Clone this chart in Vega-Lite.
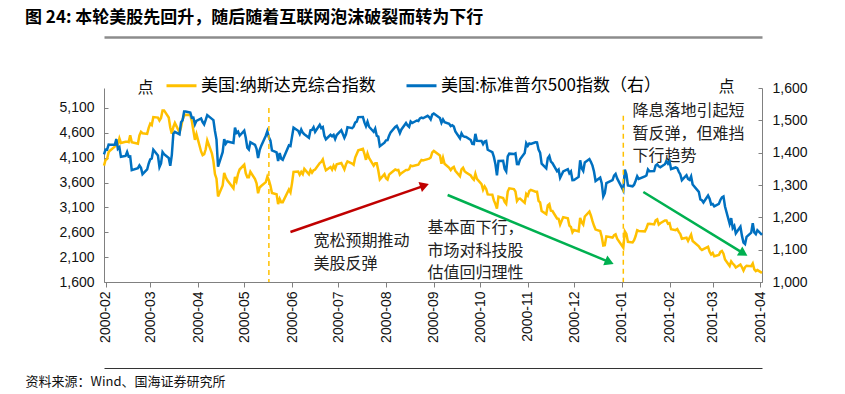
{
  "$schema": "https://vega.github.io/schema/vega-lite/v6.json",
  "width": 658,
  "height": 194,
  "autosize": {"type": "none"},
  "padding": {"left": 104, "top": 88, "right": 83, "bottom": 112},
  "background": "#ffffff",
  "config": {
    "view": {"stroke": null},
    "axis": {"grid": false, "labelOverlap": false, "domainColor": "#808080", "tickColor": "#808080", "labelColor": "#111111", "labelFont": "Liberation Sans", "labelFontSize": 14, "titleFontWeight": "normal", "titleColor": "#111111"}
  },
  "title": {
    "text": "图 24:  本轮美股先回升，随后随着互联网泡沫破裂而转为下行",
    "anchor": "start",
    "frame": "group",
    "font": "Noto Sans CJK SC",
    "fontSize": 17,
    "fontWeight": "bold",
    "color": "#000000",
    "dx": -79,
    "dy": -6
  },
  "datasets": {
    "idx": [
      {"d":"2000-01-31","n":3940,"s":1394.5},
      {"d":"2000-02-01","n":4052,"s":1409.3},
      {"d":"2000-02-02","n":4074,"s":1409.1},
      {"d":"2000-02-03","n":4211,"s":1425.0},
      {"d":"2000-02-04","n":4244,"s":1424.4},
      {"d":"2000-02-07","n":4322,"s":1424.2},
      {"d":"2000-02-08","n":4428,"s":1441.7},
      {"d":"2000-02-09","n":4363,"s":1411.7},
      {"d":"2000-02-10","n":4486,"s":1416.8},
      {"d":"2000-02-11","n":4395,"s":1387.1},
      {"d":"2000-02-14","n":4419,"s":1389.9},
      {"d":"2000-02-15","n":4421,"s":1402.1},
      {"d":"2000-02-16","n":4412,"s":1387.7},
      {"d":"2000-02-17","n":4549,"s":1388.3},
      {"d":"2000-02-18","n":4412,"s":1346.1},
      {"d":"2000-02-22","n":4382,"s":1352.2},
      {"d":"2000-02-23","n":4550,"s":1360.7},
      {"d":"2000-02-24","n":4618,"s":1353.4},
      {"d":"2000-02-25","n":4591,"s":1333.4},
      {"d":"2000-02-28","n":4578,"s":1348.1},
      {"d":"2000-02-29","n":4697,"s":1366.4},
      {"d":"2000-03-01","n":4784,"s":1379.2},
      {"d":"2000-03-02","n":4755,"s":1381.8},
      {"d":"2000-03-03","n":4915,"s":1409.2},
      {"d":"2000-03-06","n":4905,"s":1391.3},
      {"d":"2000-03-07","n":4848,"s":1355.6},
      {"d":"2000-03-08","n":4897,"s":1366.7},
      {"d":"2000-03-09","n":5047,"s":1401.7},
      {"d":"2000-03-10","n":5049,"s":1395.1},
      {"d":"2000-03-13","n":4907,"s":1383.6},
      {"d":"2000-03-14","n":4707,"s":1359.2},
      {"d":"2000-03-15","n":4583,"s":1392.1},
      {"d":"2000-03-16","n":4717,"s":1458.5},
      {"d":"2000-03-17","n":4798,"s":1464.5},
      {"d":"2000-03-20","n":4610,"s":1456.6},
      {"d":"2000-03-21","n":4712,"s":1493.9},
      {"d":"2000-03-22","n":4865,"s":1500.6},
      {"d":"2000-03-23","n":4941,"s":1527.4},
      {"d":"2000-03-24","n":4963,"s":1527.5},
      {"d":"2000-03-27","n":4959,"s":1523.9},
      {"d":"2000-03-28","n":4834,"s":1507.7},
      {"d":"2000-03-29","n":4645,"s":1508.5},
      {"d":"2000-03-30","n":4458,"s":1487.9},
      {"d":"2000-03-31","n":4573,"s":1498.6},
      {"d":"2000-04-03","n":4224,"s":1506.0},
      {"d":"2000-04-04","n":4149,"s":1494.7},
      {"d":"2000-04-05","n":4169,"s":1487.4},
      {"d":"2000-04-06","n":4268,"s":1501.3},
      {"d":"2000-04-07","n":4446,"s":1516.4},
      {"d":"2000-04-10","n":4188,"s":1504.5},
      {"d":"2000-04-11","n":4031,"s":1500.6},
      {"d":"2000-04-12","n":3770,"s":1467.2},
      {"d":"2000-04-13","n":3677,"s":1440.5},
      {"d":"2000-04-14","n":3321,"s":1356.6},
      {"d":"2000-04-17","n":3539,"s":1401.4},
      {"d":"2000-04-18","n":3794,"s":1441.6},
      {"d":"2000-04-19","n":3706,"s":1427.5},
      {"d":"2000-04-20","n":3644,"s":1434.5},
      {"d":"2000-04-24","n":3482,"s":1429.9},
      {"d":"2000-04-25","n":3711,"s":1477.4},
      {"d":"2000-04-26","n":3630,"s":1461.0},
      {"d":"2000-04-27","n":3774,"s":1464.9},
      {"d":"2000-04-28","n":3861,"s":1452.4},
      {"d":"2000-05-01","n":3958,"s":1468.3},
      {"d":"2000-05-02","n":3785,"s":1446.3},
      {"d":"2000-05-03","n":3707,"s":1415.1},
      {"d":"2000-05-04","n":3706,"s":1409.6},
      {"d":"2000-05-05","n":3817,"s":1432.6},
      {"d":"2000-05-08","n":3669,"s":1424.2},
      {"d":"2000-05-09","n":3585,"s":1412.1},
      {"d":"2000-05-10","n":3385,"s":1383.1},
      {"d":"2000-05-11","n":3500,"s":1407.8},
      {"d":"2000-05-12","n":3529,"s":1421.0},
      {"d":"2000-05-15","n":3608,"s":1452.4},
      {"d":"2000-05-16","n":3718,"s":1466.0},
      {"d":"2000-05-17","n":3645,"s":1447.8},
      {"d":"2000-05-18","n":3539,"s":1437.2},
      {"d":"2000-05-19","n":3390,"s":1407.0},
      {"d":"2000-05-22","n":3364,"s":1400.7},
      {"d":"2000-05-23","n":3165,"s":1373.9},
      {"d":"2000-05-24","n":3271,"s":1399.1},
      {"d":"2000-05-25","n":3205,"s":1381.5},
      {"d":"2000-05-26","n":3205,"s":1378.0},
      {"d":"2000-05-30","n":3459,"s":1422.5},
      {"d":"2000-05-31","n":3401,"s":1420.6},
      {"d":"2000-06-01","n":3583,"s":1448.8},
      {"d":"2000-06-02","n":3813,"s":1477.3},
      {"d":"2000-06-05","n":3822,"s":1467.6},
      {"d":"2000-06-06","n":3756,"s":1457.8},
      {"d":"2000-06-07","n":3813,"s":1471.4},
      {"d":"2000-06-08","n":3768,"s":1461.7},
      {"d":"2000-06-09","n":3875,"s":1457.0},
      {"d":"2000-06-12","n":3767,"s":1446.0},
      {"d":"2000-06-13","n":3851,"s":1469.4},
      {"d":"2000-06-14","n":3798,"s":1470.5},
      {"d":"2000-06-15","n":3846,"s":1478.7},
      {"d":"2000-06-16","n":3861,"s":1464.5},
      {"d":"2000-06-19","n":3990,"s":1486.0},
      {"d":"2000-06-20","n":4013,"s":1476.0},
      {"d":"2000-06-21","n":4064,"s":1479.1},
      {"d":"2000-06-22","n":3937,"s":1452.2},
      {"d":"2000-06-23","n":3845,"s":1441.5},
      {"d":"2000-06-26","n":3912,"s":1455.3},
      {"d":"2000-06-27","n":3859,"s":1450.6},
      {"d":"2000-06-28","n":3940,"s":1454.8},
      {"d":"2000-06-29","n":3877,"s":1442.4},
      {"d":"2000-06-30","n":3966,"s":1454.6},
      {"d":"2000-07-03","n":3992,"s":1469.5},
      {"d":"2000-07-05","n":3863,"s":1446.2},
      {"d":"2000-07-06","n":3961,"s":1456.7},
      {"d":"2000-07-07","n":4023,"s":1478.9},
      {"d":"2000-07-10","n":3980,"s":1475.6},
      {"d":"2000-07-11","n":3956,"s":1480.9},
      {"d":"2000-07-12","n":4100,"s":1492.9},
      {"d":"2000-07-13","n":4175,"s":1495.8},
      {"d":"2000-07-14","n":4246,"s":1510.0},
      {"d":"2000-07-17","n":4275,"s":1510.5},
      {"d":"2000-07-18","n":4177,"s":1493.7},
      {"d":"2000-07-19","n":4056,"s":1482.0},
      {"d":"2000-07-20","n":4185,"s":1495.6},
      {"d":"2000-07-21","n":4094,"s":1480.2},
      {"d":"2000-07-24","n":3940,"s":1464.3},
      {"d":"2000-07-25","n":3988,"s":1474.5},
      {"d":"2000-07-26","n":3987,"s":1452.4},
      {"d":"2000-07-27","n":3842,"s":1449.6},
      {"d":"2000-07-28","n":3663,"s":1419.9},
      {"d":"2000-07-31","n":3767,"s":1430.8},
      {"d":"2000-08-01","n":3685,"s":1438.1},
      {"d":"2000-08-02","n":3658,"s":1438.7},
      {"d":"2000-08-03","n":3759,"s":1452.6},
      {"d":"2000-08-04","n":3787,"s":1462.9},
      {"d":"2000-08-07","n":3862,"s":1479.3},
      {"d":"2000-08-08","n":3848,"s":1482.8},
      {"d":"2000-08-09","n":3853,"s":1472.9},
      {"d":"2000-08-10","n":3759,"s":1460.3},
      {"d":"2000-08-11","n":3789,"s":1471.8},
      {"d":"2000-08-14","n":3851,"s":1491.6},
      {"d":"2000-08-15","n":3850,"s":1484.4},
      {"d":"2000-08-16","n":3867,"s":1479.9},
      {"d":"2000-08-17","n":3940,"s":1496.1},
      {"d":"2000-08-18","n":3930,"s":1491.7},
      {"d":"2000-08-21","n":3953,"s":1499.5},
      {"d":"2000-08-22","n":3958,"s":1498.1},
      {"d":"2000-08-23","n":4011,"s":1506.0},
      {"d":"2000-08-24","n":4053,"s":1508.3},
      {"d":"2000-08-25","n":4042,"s":1506.5},
      {"d":"2000-08-28","n":4071,"s":1514.1},
      {"d":"2000-08-29","n":4079,"s":1509.8},
      {"d":"2000-08-30","n":4103,"s":1502.6},
      {"d":"2000-08-31","n":4206,"s":1517.7},
      {"d":"2000-09-01","n":4234,"s":1520.8},
      {"d":"2000-09-05","n":4143,"s":1507.1},
      {"d":"2000-09-06","n":3979,"s":1492.3},
      {"d":"2000-09-07","n":4098,"s":1502.5},
      {"d":"2000-09-08","n":3978,"s":1494.5},
      {"d":"2000-09-11","n":3896,"s":1489.3},
      {"d":"2000-09-12","n":3849,"s":1482.0},
      {"d":"2000-09-13","n":3893,"s":1484.9},
      {"d":"2000-09-14","n":3913,"s":1480.9},
      {"d":"2000-09-15","n":3835,"s":1465.8},
      {"d":"2000-09-18","n":3726,"s":1444.5},
      {"d":"2000-09-19","n":3865,"s":1459.9},
      {"d":"2000-09-20","n":3897,"s":1451.3},
      {"d":"2000-09-21","n":3829,"s":1449.1},
      {"d":"2000-09-22","n":3803,"s":1448.7},
      {"d":"2000-09-25","n":3741,"s":1439.0},
      {"d":"2000-09-26","n":3689,"s":1427.2},
      {"d":"2000-09-27","n":3656,"s":1426.6},
      {"d":"2000-09-28","n":3778,"s":1458.3},
      {"d":"2000-09-29","n":3673,"s":1436.5},
      {"d":"2000-10-02","n":3569,"s":1436.2},
      {"d":"2000-10-03","n":3455,"s":1426.5},
      {"d":"2000-10-04","n":3523,"s":1434.3},
      {"d":"2000-10-05","n":3472,"s":1436.3},
      {"d":"2000-10-06","n":3361,"s":1409.0},
      {"d":"2000-10-09","n":3355,"s":1402.0},
      {"d":"2000-10-10","n":3240,"s":1387.0},
      {"d":"2000-10-11","n":3168,"s":1364.6},
      {"d":"2000-10-12","n":3074,"s":1329.8},
      {"d":"2000-10-13","n":3316,"s":1374.2},
      {"d":"2000-10-16","n":3290,"s":1374.6},
      {"d":"2000-10-17","n":3213,"s":1350.0},
      {"d":"2000-10-18","n":3171,"s":1342.1},
      {"d":"2000-10-19","n":3418,"s":1388.8},
      {"d":"2000-10-20","n":3483,"s":1396.9},
      {"d":"2000-10-23","n":3468,"s":1395.8},
      {"d":"2000-10-24","n":3419,"s":1398.1},
      {"d":"2000-10-25","n":3229,"s":1364.9},
      {"d":"2000-10-26","n":3272,"s":1364.4},
      {"d":"2000-10-27","n":3278,"s":1379.6},
      {"d":"2000-10-30","n":3191,"s":1398.7},
      {"d":"2000-10-31","n":3370,"s":1429.4},
      {"d":"2000-11-01","n":3333,"s":1421.2},
      {"d":"2000-11-02","n":3429,"s":1428.3},
      {"d":"2000-11-03","n":3451,"s":1426.7},
      {"d":"2000-11-06","n":3416,"s":1432.2},
      {"d":"2000-11-07","n":3416,"s":1431.9},
      {"d":"2000-11-08","n":3232,"s":1409.3},
      {"d":"2000-11-09","n":3201,"s":1400.1},
      {"d":"2000-11-10","n":3028,"s":1366.0},
      {"d":"2000-11-13","n":2966,"s":1351.3},
      {"d":"2000-11-14","n":3138,"s":1383.0},
      {"d":"2000-11-15","n":3165,"s":1389.8},
      {"d":"2000-11-16","n":3032,"s":1372.3},
      {"d":"2000-11-17","n":3027,"s":1367.7},
      {"d":"2000-11-20","n":2876,"s":1342.6},
      {"d":"2000-11-21","n":2871,"s":1347.4},
      {"d":"2000-11-22","n":2755,"s":1322.4},
      {"d":"2000-11-24","n":2904,"s":1341.8},
      {"d":"2000-11-27","n":2880,"s":1349.0},
      {"d":"2000-11-28","n":2734,"s":1336.1},
      {"d":"2000-11-29","n":2706,"s":1341.9},
      {"d":"2000-11-30","n":2598,"s":1315.0},
      {"d":"2000-12-01","n":2645,"s":1315.2},
      {"d":"2000-12-04","n":2616,"s":1325.0},
      {"d":"2000-12-05","n":2890,"s":1376.5},
      {"d":"2000-12-06","n":2796,"s":1351.5},
      {"d":"2000-12-07","n":2752,"s":1343.6},
      {"d":"2000-12-08","n":2917,"s":1369.9},
      {"d":"2000-12-11","n":3016,"s":1380.2},
      {"d":"2000-12-12","n":2932,"s":1371.2},
      {"d":"2000-12-13","n":2822,"s":1360.0},
      {"d":"2000-12-14","n":2729,"s":1340.9},
      {"d":"2000-12-15","n":2654,"s":1312.2},
      {"d":"2000-12-18","n":2624,"s":1322.7},
      {"d":"2000-12-19","n":2511,"s":1305.6},
      {"d":"2000-12-20","n":2333,"s":1264.7},
      {"d":"2000-12-21","n":2340,"s":1274.9},
      {"d":"2000-12-22","n":2517,"s":1306.0},
      {"d":"2000-12-26","n":2493,"s":1315.2},
      {"d":"2000-12-27","n":2539,"s":1328.9},
      {"d":"2000-12-28","n":2557,"s":1334.2},
      {"d":"2000-12-29","n":2471,"s":1320.3},
      {"d":"2001-01-02","n":2291,"s":1283.3},
      {"d":"2001-01-03","n":2617,"s":1347.6},
      {"d":"2001-01-04","n":2566,"s":1333.3},
      {"d":"2001-01-05","n":2407,"s":1298.4},
      {"d":"2001-01-08","n":2395,"s":1295.9},
      {"d":"2001-01-09","n":2441,"s":1300.8},
      {"d":"2001-01-10","n":2524,"s":1313.3},
      {"d":"2001-01-11","n":2640,"s":1326.8},
      {"d":"2001-01-12","n":2626,"s":1318.6},
      {"d":"2001-01-16","n":2618,"s":1326.7},
      {"d":"2001-01-17","n":2682,"s":1329.5},
      {"d":"2001-01-18","n":2768,"s":1348.0},
      {"d":"2001-01-19","n":2770,"s":1342.5},
      {"d":"2001-01-22","n":2757,"s":1342.9},
      {"d":"2001-01-23","n":2840,"s":1360.4},
      {"d":"2001-01-24","n":2859,"s":1364.3},
      {"d":"2001-01-25","n":2754,"s":1357.5},
      {"d":"2001-01-26","n":2781,"s":1355.0},
      {"d":"2001-01-29","n":2838,"s":1364.2},
      {"d":"2001-01-30","n":2838,"s":1373.7},
      {"d":"2001-01-31","n":2772,"s":1366.0},
      {"d":"2001-02-01","n":2782,"s":1373.5},
      {"d":"2001-02-02","n":2661,"s":1349.5},
      {"d":"2001-02-05","n":2643,"s":1354.3},
      {"d":"2001-02-06","n":2664,"s":1352.3},
      {"d":"2001-02-07","n":2607,"s":1340.9},
      {"d":"2001-02-08","n":2562,"s":1332.5},
      {"d":"2001-02-09","n":2470,"s":1314.8},
      {"d":"2001-02-12","n":2489,"s":1330.3},
      {"d":"2001-02-13","n":2427,"s":1318.8},
      {"d":"2001-02-14","n":2491,"s":1315.9},
      {"d":"2001-02-15","n":2552,"s":1326.6},
      {"d":"2001-02-16","n":2425,"s":1301.5},
      {"d":"2001-02-20","n":2318,"s":1278.9},
      {"d":"2001-02-21","n":2268,"s":1255.3},
      {"d":"2001-02-22","n":2244,"s":1252.8},
      {"d":"2001-02-23","n":2262,"s":1245.9},
      {"d":"2001-02-26","n":2308,"s":1267.7},
      {"d":"2001-02-27","n":2207,"s":1257.9},
      {"d":"2001-02-28","n":2152,"s":1239.9},
      {"d":"2001-03-01","n":2183,"s":1241.2},
      {"d":"2001-03-02","n":2117,"s":1234.2},
      {"d":"2001-03-05","n":2142,"s":1241.4},
      {"d":"2001-03-06","n":2204,"s":1253.8},
      {"d":"2001-03-07","n":2223,"s":1261.9},
      {"d":"2001-03-08","n":2168,"s":1264.7},
      {"d":"2001-03-09","n":2052,"s":1233.4},
      {"d":"2001-03-12","n":1923,"s":1180.2},
      {"d":"2001-03-13","n":2014,"s":1197.7},
      {"d":"2001-03-14","n":1972,"s":1166.7},
      {"d":"2001-03-15","n":1940,"s":1173.6},
      {"d":"2001-03-16","n":1890,"s":1150.5},
      {"d":"2001-03-19","n":1951,"s":1170.8},
      {"d":"2001-03-20","n":1897,"s":1142.6},
      {"d":"2001-03-21","n":1831,"s":1122.1},
      {"d":"2001-03-22","n":1897,"s":1117.6},
      {"d":"2001-03-23","n":1928,"s":1139.8},
      {"d":"2001-03-26","n":1918,"s":1152.7},
      {"d":"2001-03-27","n":1972,"s":1182.2},
      {"d":"2001-03-28","n":1854,"s":1153.3},
      {"d":"2001-03-29","n":1820,"s":1148.0},
      {"d":"2001-03-30","n":1840,"s":1160.3},
      {"d":"2001-04-02","n":1783,"s":1145.9}
    ],
    "events": [
      {"d":"2000-05-17","top":5100},
      {"d":"2001-01-02","top":4940}
    ],
    "arrows": [
      {"id":"a1","d1":"2000-05-31","v1":2605,"d2":"2000-08-26","v2":3538},
      {"id":"a2","d1":"2000-09-10","v1":3349,"d2":"2000-12-24","v2":2000},
      {"id":"a3","d1":"2001-01-15","v1":3409,"d2":"2001-03-21","v2":2175}
    ],
    "notes": [
      {"d":"2000-06-15","v":2585,"t":"宽松预期推动\n美股反弹"},
      {"d":"2000-08-28","v":2846,"t":"基本面下行，\n市场对科技股\n估值回归理性"},
      {"d":"2001-01-08","v":5195,"t":"降息落地引起短\n暂反弹，但难挡\n下行趋势"}
    ]
  },
  "layer": [
    {
      "layer": [
        {
          "data": {"name": "idx"},
          "mark": {"type": "line", "strokeWidth": 2.5, "interpolate": "linear"},
          "encoding": {
            "x": {
              "field": "d", "type": "temporal",
              "scale": {"type": "utc", "domain": [{"year":2000,"month":1,"date":31,"utc":true},{"year":2001,"month":4,"date":2,"utc":true}]},
              "axis": {
                "format": "%Y-%m", "tickCount": {"interval": "month", "step": 1},
                "labelAngle": -90, "labelPadding": 4, "tickSize": 5, "labelOverlap": false,
                "title": "资料来源：Wind、国海证券研究所",
                "titleFont": "Noto Sans CJK SC", "titleFontSize": 13,
                "titleX": -79, "titleY": 99, "titleAlign": "left", "titleBaseline": "middle"
              }
            },
            "y": {
              "field": "n", "type": "quantitative",
              "scale": {"domain": [1600, 5500], "nice": false, "zero": false},
              "axis": {
                "values": [1600,2100,2600,3100,3600,4100,4600,5100], "tickCount": 20, "format": ",.0f",
                "tickSize": -4, "labelPadding": 14, "labelOverlap": false,
                "title": "点", "titleAngle": 0, "titleFont": "Noto Sans CJK SC", "titleFontSize": 16,
                "titleX": 41, "titleY": -1, "titleAlign": "center", "titleBaseline": "middle"
              }
            },
            "color": {
              "datum": "美国:纳斯达克综合指数", "type": "nominal",
              "scale": {"domain": ["美国:纳斯达克综合指数", "美国:标准普尔500指数（右）"], "range": ["#FFC000", "#0070C0"]},
              "legend": {
                "orient": "none", "legendX": 61, "legendY": -19, "direction": "horizontal", "title": null,
                "symbolType": "stroke", "symbolSize": 900, "symbolStrokeWidth": 3,
                "labelFont": "Noto Sans CJK SC", "labelFontSize": 17, "labelColor": "#000000", "labelLimit": 400,
                "columnPadding": 24, "labelOffset": 3
              }
            }
          }
        },
        {
          "data": {"name": "arrows"},
          "transform": [{"filter": "datum.id === 'a1'"}],
          "mark": {"type": "rule", "color": "#C00000", "strokeWidth": 2.5},
          "encoding": {
            "x": {"field": "d1", "type": "temporal"},
            "x2": {"field": "d2"},
            "y": {"field": "v1", "type": "quantitative"},
            "y2": {"field": "v2"}
          }
        },
        {
          "data": {"name": "arrows"},
          "transform": [{"filter": "datum.id !== 'a1'"}],
          "mark": {"type": "rule", "color": "#00B050", "strokeWidth": 2.5},
          "encoding": {
            "x": {"field": "d1", "type": "temporal"},
            "x2": {"field": "d2"},
            "y": {"field": "v1", "type": "quantitative"},
            "y2": {"field": "v2"}
          }
        },
        {
          "data": {"name": "arrows"},
          "transform": [{"filter": "datum.id === 'a1'"}],
          "mark": {"type": "point", "shape": "triangle-right", "filled": true, "color": "#C00000", "opacity": 1, "size": 110, "angle": -19},
          "encoding": {
            "x": {"field": "d2", "type": "temporal"},
            "y": {"field": "v2", "type": "quantitative"}
          }
        },
        {
          "data": {"name": "arrows"},
          "transform": [{"filter": "datum.id === 'a2'"}],
          "mark": {"type": "point", "shape": "triangle-right", "filled": true, "color": "#00B050", "opacity": 1, "size": 110, "angle": 23},
          "encoding": {
            "x": {"field": "d2", "type": "temporal"},
            "y": {"field": "v2", "type": "quantitative"}
          }
        },
        {
          "data": {"name": "arrows"},
          "transform": [{"filter": "datum.id === 'a3'"}],
          "mark": {"type": "point", "shape": "triangle-right", "filled": true, "color": "#00B050", "opacity": 1, "size": 110, "angle": 31},
          "encoding": {
            "x": {"field": "d2", "type": "temporal"},
            "y": {"field": "v2", "type": "quantitative"}
          }
        },
        {
          "data": {"name": "notes"},
          "mark": {"type": "text", "align": "left", "baseline": "top", "lineBreak": "\n", "lineHeight": 22.5, "font": "Noto Sans CJK SC", "fontSize": 16, "color": "#222222"},
          "encoding": {
            "x": {"field": "d", "type": "temporal"},
            "y": {"field": "v", "type": "quantitative"},
            "text": {"field": "t"}
          }
        }
      ]
    },
    {
      "data": {"name": "idx"},
      "mark": {"type": "line", "strokeWidth": 2.5},
      "encoding": {
        "x": {
          "field": "d", "type": "temporal",
          "axis": {"orient": "top", "offset": 51, "labels": false, "ticks": false, "title": null, "domainColor": "#8c8c8c", "domainWidth": 2.5}
        },
        "y": {
          "field": "s", "type": "quantitative",
          "scale": {"domain": [1000, 1600], "nice": false, "zero": false},
          "axis": {
            "orient": "right", "values": [1000,1100,1200,1300,1400,1500,1600], "tickCount": 20, "format": ",.0f",
            "tickSize": -4, "labelPadding": 14, "labelOverlap": false,
            "title": "点", "titleAngle": 0, "titleFont": "Noto Sans CJK SC", "titleFontSize": 16,
            "titleX": -36, "titleY": -2, "titleAlign": "center", "titleBaseline": "middle"
          }
        },
        "color": {"datum": "美国:标准普尔500指数（右）", "type": "nominal"}
      }
    },
    {
      "data": {"name": "events"},
      "mark": {"type": "rule", "color": "#FFC000", "strokeWidth": 1.5, "strokeDash": [5, 4]},
      "encoding": {
        "x": {
          "field": "d", "type": "temporal",
          "axis": {"orient": "bottom", "offset": 86, "labels": false, "ticks": false, "title": null, "domainColor": "#333333", "domainWidth": 1}
        },
        "y": {"field": "top", "type": "quantitative", "scale": {"domain": [1600, 5500], "nice": false, "zero": false}, "axis": null},
        "y2": {"datum": 1600}
      }
    }
  ],
  "resolve": {"scale": {"y": "independent"}, "axis": {"x": "independent"}}
}
